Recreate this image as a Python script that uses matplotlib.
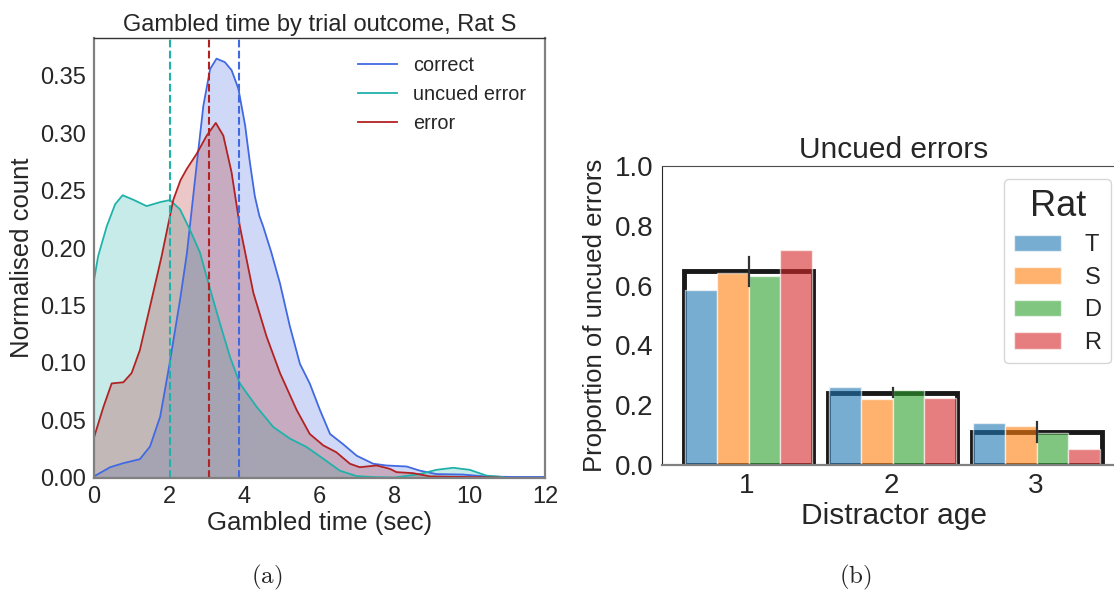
import numpy as np
import matplotlib.pyplot as plt
from matplotlib.patches import Patch

plt.rcParams['font.family'] = ['Liberation Sans', 'DejaVu Sans']
plt.rcParams['mathtext.fontset'] = 'cm'
plt.rcParams['text.color'] = '.15'
plt.rcParams['axes.labelcolor'] = '.15'
plt.rcParams['xtick.color'] = '.15'
plt.rcParams['ytick.color'] = '.15'

# --- (a) gambled time densities, rat S ---
correct_x = [0, 0.43, 0.78, 1.22, 1.49, 1.76, 2.0, 2.29, 2.47, 2.73, 2.91, 3.09, 3.26,
             3.48, 3.66, 3.84, 4.02, 4.15, 4.28, 4.4, 4.5, 4.72, 4.95, 5.21, 5.48, 5.74,
             6.01, 6.28, 6.63, 6.99, 7.43, 7.78, 8.32, 8.67, 9.11, 9.8, 10.4, 11.1, 12]
correct_y = [0.001, 0.009, 0.0125, 0.016, 0.027, 0.053, 0.097, 0.155, 0.195, 0.272,
             0.324, 0.356, 0.365, 0.362, 0.355, 0.339, 0.307, 0.274, 0.245, 0.228,
             0.219, 0.196, 0.169, 0.132, 0.099, 0.082, 0.059, 0.038, 0.029, 0.019,
             0.012, 0.0105, 0.0096, 0.006, 0.003, 0.0026, 0.001, 0.0005, 0.0005]

uncued_x = [0, 0.11, 0.34, 0.56, 0.76, 1.05, 1.4, 1.76, 2.02, 2.29, 2.55, 2.82, 3.09,
            3.35, 3.62, 3.88, 4.33, 4.77, 5.21, 5.66, 6.1, 6.54, 6.99, 7.5, 8.0, 8.67,
            9.11, 9.56, 10.0, 10.44, 10.9]
uncued_y = [0.172, 0.193, 0.219, 0.238, 0.246, 0.242, 0.2365, 0.240, 0.2418, 0.2336,
            0.216, 0.196, 0.164, 0.1345, 0.105, 0.082, 0.0615, 0.044, 0.034, 0.0265,
            0.0164, 0.006, 0.0012, 0.0003, 0.0, 0.003, 0.0067, 0.0085, 0.0067, 0.0017,
            0.0003]

error_x = [0, 0.25, 0.47, 0.78, 1.0, 1.22, 1.49, 1.8, 2.11, 2.3, 2.47, 2.73, 3.0, 3.24,
           3.44, 3.66, 3.88, 4.06, 4.24, 4.59, 4.95, 5.39, 5.74, 6.1, 6.45, 6.81, 7.07,
           7.52, 7.87, 8.05, 8.49, 8.94, 9.8, 10.8]
error_y = [0.035, 0.0615, 0.082, 0.083, 0.091, 0.111, 0.149, 0.193, 0.242, 0.259, 0.269,
           0.282, 0.298, 0.309, 0.298, 0.266, 0.219, 0.19, 0.161, 0.123, 0.091, 0.059,
           0.038, 0.028, 0.022, 0.012, 0.009, 0.0105, 0.0076, 0.0047, 0.0038, 0.001,
           0.0005, 0.0]

outcomes = ['correct', 'uncued error', 'error']
outcome_colors = ['#4169e1', '#20b2aa', '#b22222']
outcome_means = [3.86, 2.01, 3.06]

# --- (b) proportion of uncued errors per distractor age ---
ages = ['1', '2', '3']
rats = ['T', 'S', 'D', 'R']
rat_colors = ['tab:blue', 'tab:orange', 'tab:green', 'tab:red']
props = {
    'T': [0.585, 0.260, 0.139],
    'S': [0.643, 0.222, 0.131],
    'D': [0.633, 0.251, 0.108],
    'R': [0.719, 0.224, 0.052],
}
mean_props = [0.648, 0.242, 0.110]
ci_low = [0.599, 0.226, 0.078]
ci_high = [0.695, 0.256, 0.145]

fig = plt.figure(figsize=(11.14, 5.91), dpi=100)

ax1 = fig.add_axes([0.0844, 0.192, 0.4048, 0.7437])
curves = [(correct_x, correct_y), (uncued_x, uncued_y), (error_x, error_y)]
for (xs, ys), c in zip(curves, outcome_colors):
    ax1.fill_between(xs, ys, color=c, alpha=0.25, lw=0)
for (xs, ys), c, name in zip(curves, outcome_colors, outcomes):
    ax1.plot(xs, ys, color=c, lw=1.3, label=name)
for m, c in zip(outcome_means, outcome_colors):
    ax1.axvline(m, color=c, ls='--', lw=1.5)

ax1.set_xlim(0, 12)
ax1.set_ylim(0, 0.383)
ax1.set_xticks(np.arange(0, 13, 2))
ax1.set_yticks(np.arange(0, 0.36, 0.05))
ax1.set_yticklabels([f'{v:.2f}' for v in np.arange(0, 0.36, 0.05)])
ax1.tick_params(labelsize=17, length=0, pad=6)
ax1.set_xlabel('Gambled time (sec)', fontsize=18.5, labelpad=2)
ax1.set_ylabel('Normalised count', fontsize=18.5, labelpad=4)
ax1.set_title('Gambled time by trial outcome, Rat S', fontsize=17, pad=5)
for side in ['left', 'bottom', 'right']:
    ax1.spines[side].set_color('#808080')
    ax1.spines[side].set_linewidth(1.6)
ax1.spines['top'].set_color('.2')
ax1.spines['top'].set_linewidth(1.0)
ax1.legend(loc='upper left', bbox_to_anchor=(0.545, 0.999), frameon=False,
           fontsize=14.3, handlelength=2.0, handletextpad=0.8, labelspacing=0.5)

# right panel runs a little past the figure edge
ax2 = fig.add_axes([0.5943, 0.2132, 0.4165, 0.5059])
xpos = np.arange(len(ages))
group_w = 0.88
bar_w = group_w / len(rats)

# mean across rats as an outlined box
ax2.bar(xpos + 0.01, mean_props, width=0.9, facecolor='none', edgecolor='black',
        lw=3.5, alpha=0.9, zorder=1)

for i, (rat, c) in enumerate(zip(rats, rat_colors)):
    offs = -group_w / 2 + bar_w * (i + 0.5) + 0.01
    ax2.bar(xpos + offs, props[rat], width=bar_w, color=c, alpha=0.6,
            edgecolor='white', lw=1, zorder=2)

# 95% CI of the mean
for x, lo, hi in zip(xpos, ci_low, ci_high):
    ax2.plot([x + 0.01, x + 0.01], [lo, hi], color='.2', lw=1.6, zorder=3)

ax2.set_xlim(-0.59, 2.63)
ax2.set_ylim(0, 1.0)
ax2.set_xticks(xpos)
ax2.set_xticklabels(ages)
ax2.set_yticks(np.arange(0, 1.01, 0.2))
ax2.set_yticklabels([f'{v:.1f}' for v in np.arange(0, 1.01, 0.2)])
ax2.tick_params(labelsize=20, length=0, pad=6)
ax2.set_xlabel('Distractor age', fontsize=21.5, labelpad=2)
ax2.set_ylabel('Proportion of uncued errors', fontsize=18.5, labelpad=6)
ax2.set_title('Uncued errors', fontsize=21.5, pad=6)
ax2.spines['right'].set_visible(False)
ax2.spines['left'].set_color('.15')
ax2.spines['top'].set_color('.3')
ax2.spines['bottom'].set_color('#808080')
ax2.spines['bottom'].set_linewidth(1.6)

handles = [Patch(facecolor=c, alpha=0.6, edgecolor='white') for c in rat_colors]
leg = ax2.legend(handles, rats, title='Rat', loc='upper right',
                 bbox_to_anchor=(0.9973, 0.697), bbox_transform=fig.transFigure,
                 borderaxespad=0, fontsize=17, title_fontsize=26, handlelength=2.0,
                 handleheight=0.7, labelspacing=0.45, handletextpad=1.0)
leg.get_frame().set_edgecolor('.8')

fig.text(0.2397, 0.012, r'$\mathrm{(a)}$', fontsize=18, ha='center')
fig.text(0.7675, 0.012, r'$\mathrm{(b)}$', fontsize=18, ha='center')

fig.savefig('out.png', dpi=100)
